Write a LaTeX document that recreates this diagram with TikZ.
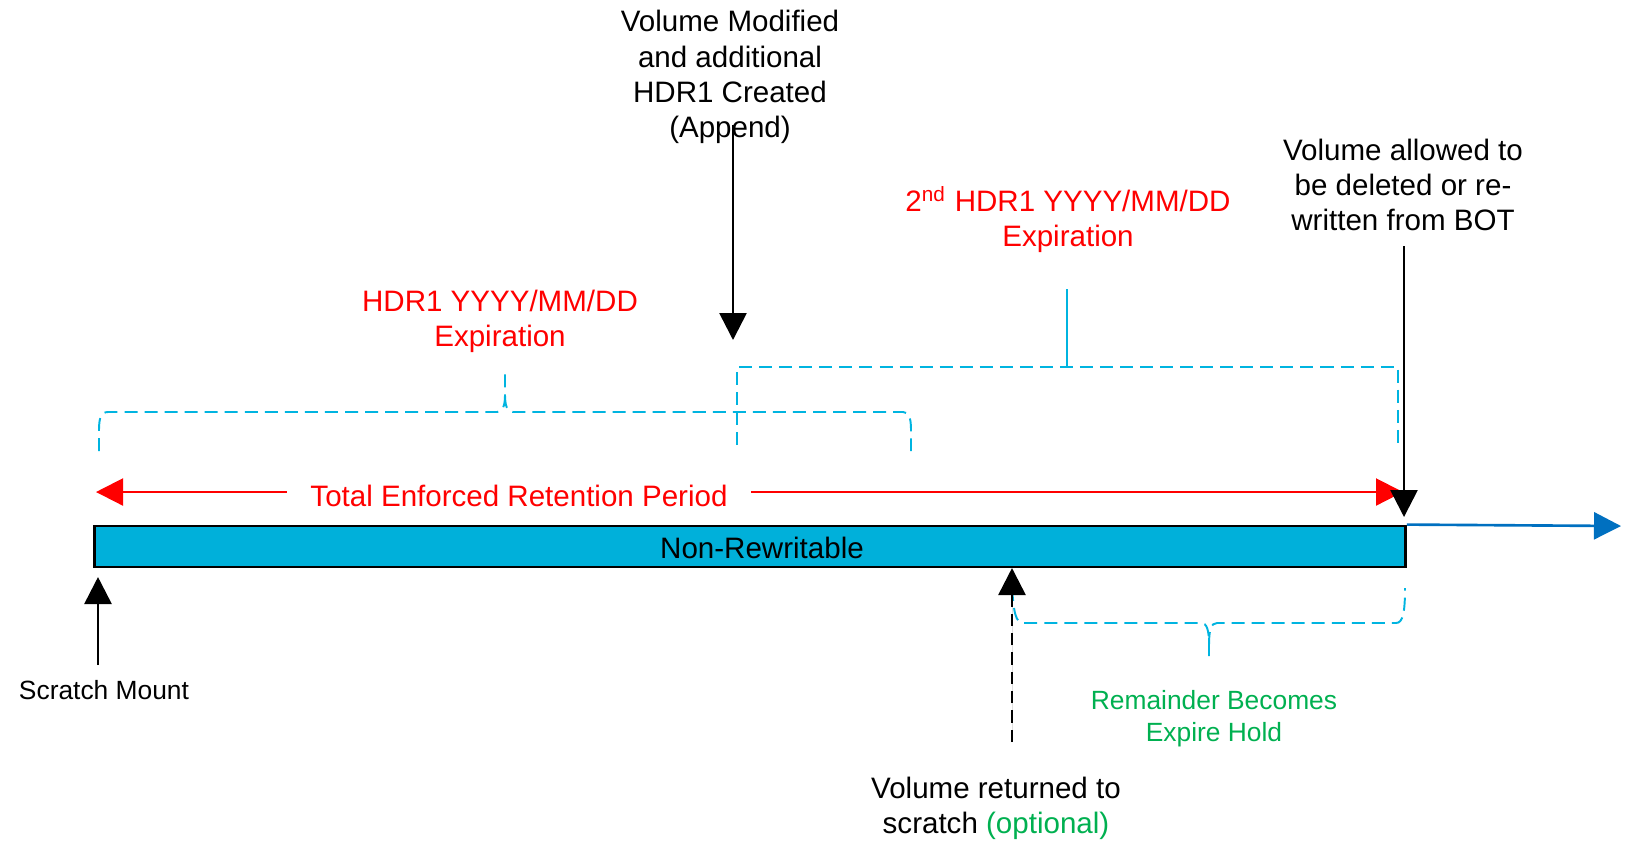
\documentclass[tikz,border=0pt]{standalone}
\usepackage{fontspec}
\setmainfont{Liberation Sans}
\usetikzlibrary{arrows.meta}
\definecolor{bar-cyan}{HTML}{00B0DA}
\definecolor{brace-cyan}{HTML}{00B4E0}
\definecolor{ret-red}{HTML}{FF0000}
\definecolor{hold-green}{HTML}{00B050}
\definecolor{time-blue}{HTML}{0070C0}

\begin{document}
\begin{tikzpicture}[
    x=0.01cm, y=-0.01cm,
    font=\fontsize{8.4}{10}\selectfont,
    >={Triangle[length=0.27cm, width=0.27cm]},
    note/.style={align=center, inner sep=0pt},
    smallnote/.style={note, font=\fontsize{7.5}{9.1}\selectfont},
    pointer/.style={->, line width=0.75pt, draw=black, fill=black},
    brace/.style={draw=brace-cyan, line width=0.55pt, dash pattern=on 3.7pt off 2pt}
]
\useasboundingbox (0,0) rectangle (1627,841);

% tape bar and time axis
\node[draw=black, fill=bar-cyan, line width=0.8pt, minimum width=13.1cm, minimum height=0.41cm, inner sep=0pt] (bar) at (750,546.5) {};
\node (bartxt) at (762,548) {Non-Rewritable};
\coordinate (axisend) at (1621,526);
\draw[->, line width=0.75pt, draw=time-blue, fill=time-blue] (bar.north east) -- (axisend);

% labels
\node[note] (appendtxt) at (730,77) {Volume Modified\\and additional\\HDR1 Created\\(Append)};
\node[note] (allowtxt) at (1403,185) {Volume allowed to\\be deleted or re-\\written from BOT};
\node[note, text=ret-red] (hdrtwotxt) at (1068,220) {2\textsuperscript{nd} HDR1 YYYY/MM/DD\\Expiration};
\node[note, text=ret-red] (hdronetxt) at (500,321) {HDR1 YYYY/MM/DD\\Expiration};
\node[note, text=ret-red, inner xsep=0.23cm] (totaltxt) at (519,496) {Total Enforced Retention Period};
\node[smallnote, text=hold-green] (holdtxt) at (1214,719) {Remainder Becomes\\Expire Hold};
\node[note] (returntxt) at (996,808) {Volume returned to\\scratch \textcolor{hold-green}{(optional)}};
\node[smallnote] (mounttxt) at (104,690) {Scratch Mount};

% pointer ends
\coordinate (mountfoot) at (98,665);
\coordinate (mounttip) at (98,577);
\coordinate (appendfoot) at (733,125);
\coordinate (appendtip) at (733,340);
\coordinate (allowfoot) at (1404,246);
\coordinate (allowtip) at (1404,517);
\coordinate (returnfoot) at (1012,742);
\coordinate (returntip) at (1012,568);
\coordinate (totalleft) at (96,492);
\coordinate (totalright) at (1403,492);

% retention period
\draw[->, line width=0.6pt, draw=ret-red, fill=ret-red] (totaltxt.west |- totalleft) -- (totalleft);
\draw[->, line width=0.6pt, draw=ret-red, fill=ret-red] (totaltxt.east |- totalright) -- (totalright);

% braces
\draw[brace] (99,451) -- (99,430) .. controls (99,418) and (101,412) .. (108,412) -- (497,412) .. controls (503,412) and (505,405) .. (505,395) -- (505,371);
\draw[brace] (505,395) .. controls (505,405) and (507,412) .. (513,412) -- (903,412) .. controls (909,412) and (911,418) .. (911,430) -- (911,451);
\draw[brace] (737,445) -- (737,367) -- (1398,367) -- (1398,443);
\draw[draw=brace-cyan, line width=0.55pt] (1067,367) -- (1067,289);
\draw[brace] (1012,588) .. controls (1014,612) and (1015,623) .. (1024,623) -- (1201,623) .. controls (1207,623) and (1209,630) .. (1209,645) -- (1209,657);
\draw[brace] (1209,645) .. controls (1209,630) and (1211,623) .. (1217,623) -- (1396,623) .. controls (1403,623) and (1405,612) .. (1405,588);

% events
\draw[pointer] (mountfoot) -- (mounttip);
\draw[pointer] (appendfoot) -- (appendtip);
\draw[pointer] (allowfoot) -- (allowtip);
\draw[pointer, dash pattern=on 3.5pt off 2pt] (returnfoot) -- (returntip);
\end{tikzpicture}
\end{document}
